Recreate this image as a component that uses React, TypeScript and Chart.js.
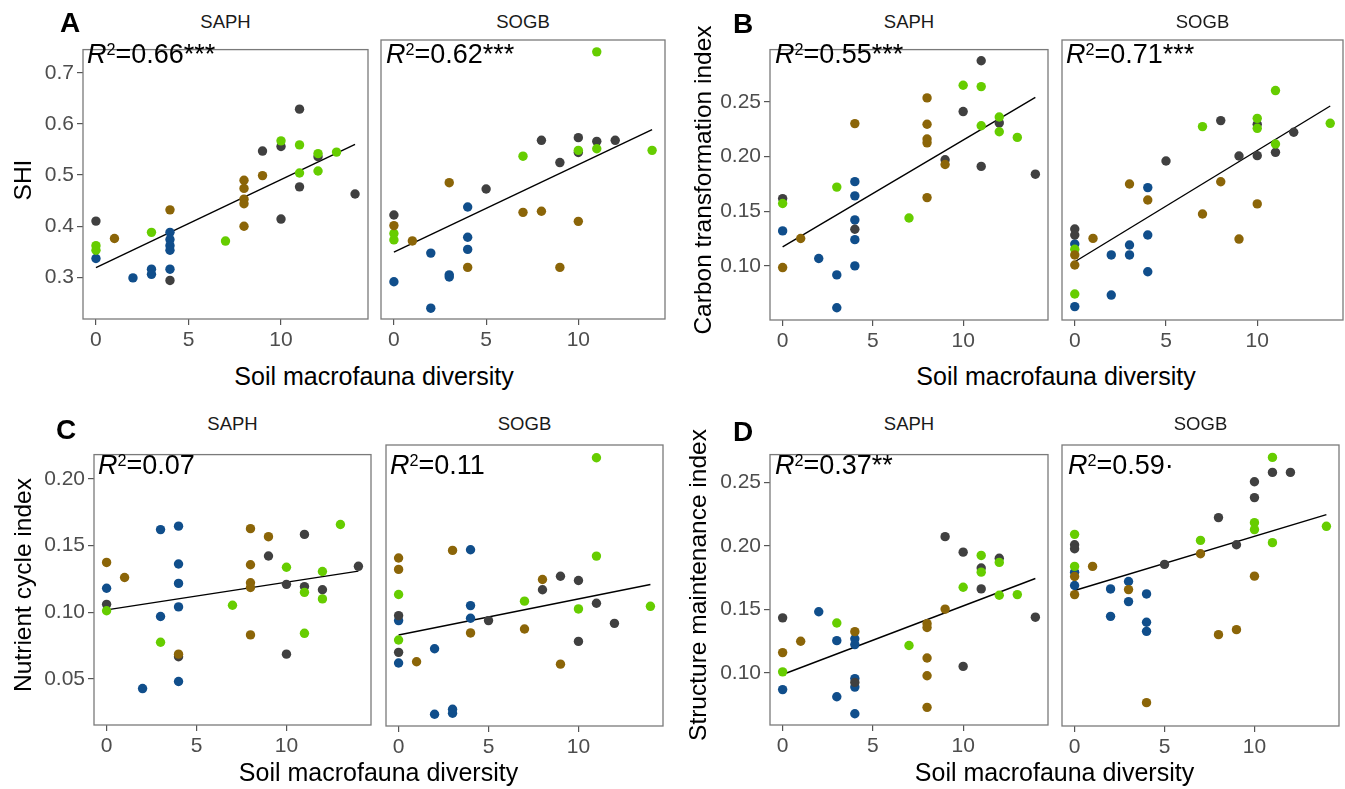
import React, { useEffect, useRef } from "react";
import { Chart, registerables } from "chart.js";
Chart.register(...registerables);

const FONT = "'Liberation Sans', Arial, Helvetica, sans-serif";

// group colours
const COLORS: Record<string, string> = {
  brown: "#8B6508",
  green: "#66CD00",
  dark: "#404040",
  blue: "#104E8B",
};
const DRAW_ORDER = ["brown", "green", "dark", "blue"];

// shared x axis
const xTicks = [0, 5, 10];
const xRange = [-0.7, 14.7];
const fitX = [0, 14];

// y axes per index
const yTicksA = [0.3, 0.4, 0.5, 0.6, 0.7];
const yRangeA = [0.2186, 0.7454];
const yTicksB = [0.1, 0.15, 0.2, 0.25];
const yRangeB = [0.0506, 0.2976];
const yTicksC = [0.05, 0.1, 0.15, 0.2];
const yRangeC = [0.0155, 0.2181];
const yTicksD = [0.1, 0.15, 0.2, 0.25];
const yRangeD = [0.0589, 0.2721];

const strips = ["SAPH", "SOGB"];
const xTitle = "Soil macrofauna diversity";
const yTitles = ["SHI", "Carbon transformation index", "Nutrient cycle index", "Structure maintenance index"];
const letters = ["A", "B", "C", "D"];
const r2Values = ["0.66", "0.62", "0.55", "0.71", "0.07", "0.11", "0.37", "0.59"];
const r2Stars = ["***", "***", "***", "***", "", "", "**", "·"];

// ---- A: SHI ----
const A_SAPH_dark = [[0, 0.41], [4, 0.294], [9, 0.547], [10, 0.556], [10, 0.414], [11, 0.629], [11, 0.477], [12, 0.536], [14, 0.463]];
const A_SAPH_green = [[0, 0.362], [0, 0.353], [3, 0.388], [7, 0.371], [10, 0.567], [11, 0.559], [11, 0.504], [12, 0.542], [12, 0.508], [13, 0.545]];
const A_SAPH_brown = [[1, 0.376], [4, 0.432], [8, 0.49], [8, 0.474], [8, 0.453], [8, 0.444], [8, 0.4], [9, 0.499]];
const A_SAPH_blue = [[0, 0.337], [2, 0.299], [3, 0.316], [3, 0.306], [4, 0.388], [4, 0.374], [4, 0.362], [4, 0.353], [4, 0.316]];
const A_SAPH_fit = [0.319, 0.56];

const A_SOGB_dark = [[0, 0.415], [5, 0.464], [8, 0.556], [9, 0.514], [10, 0.561], [10, 0.533], [11, 0.554], [12, 0.556]];
const A_SOGB_green = [[0, 0.38], [0, 0.368], [7, 0.526], [10, 0.537], [11, 0.723], [11, 0.54], [14, 0.537]];
const A_SOGB_brown = [[0, 0.395], [1, 0.366], [3, 0.476], [4, 0.316], [7, 0.42], [8, 0.422], [9, 0.316], [10, 0.403]];
const A_SOGB_blue = [[0, 0.289], [2, 0.343], [2, 0.239], [3, 0.302], [3, 0.298], [4, 0.43], [4, 0.373], [4, 0.35]];
const A_SOGB_fit = [0.345, 0.576];

// ---- B: Carbon transformation index ----
const B_SAPH_dark = [[0, 0.1615], [4, 0.1335], [9, 0.197], [10, 0.241], [11, 0.2874], [11, 0.1909], [12, 0.2306], [14, 0.1838]];
const B_SAPH_green = [[0, 0.157], [3, 0.172], [7, 0.1438], [10, 0.265], [11, 0.2638], [11, 0.228], [12, 0.236], [12, 0.2226], [13, 0.2174]];
const B_SAPH_brown = [[0, 0.0985], [1, 0.125], [4, 0.23], [8, 0.2535], [8, 0.2294], [8, 0.2159], [8, 0.2124], [8, 0.1624], [9, 0.1926]];
const B_SAPH_blue = [[0, 0.132], [2, 0.1068], [3, 0.0918], [3, 0.0618], [4, 0.177], [4, 0.164], [4, 0.142], [4, 0.124], [4, 0.1]];
const B_SAPH_fit = [0.1174, 0.254];

const B_SOGB_dark = [[0, 0.1309], [0, 0.1256], [5, 0.1909], [8, 0.2265], [9, 0.1953], [10, 0.2232], [10, 0.1956], [11, 0.1985], [12, 0.2162]];
const B_SOGB_green = [[0, 0.113], [0, 0.0735], [7, 0.2212], [10, 0.2285], [10, 0.2197], [11, 0.253], [11, 0.2059], [14, 0.2241]];
const B_SOGB_brown = [[0, 0.108], [0, 0.0991], [1, 0.1226], [3, 0.1706], [4, 0.1565], [7, 0.1441], [8, 0.1726], [9, 0.122], [10, 0.153]];
const B_SOGB_blue = [[0, 0.1176], [0, 0.0624], [2, 0.108], [2, 0.0726], [3, 0.1168], [3, 0.108], [4, 0.1674], [4, 0.1256], [4, 0.0932]];
const B_SOGB_fit = [0.102, 0.2394];

// ---- C: Nutrient cycle index ----
const C_SAPH_dark = [[0, 0.1059], [4, 0.0666], [9, 0.1421], [10, 0.1209], [10, 0.0686], [11, 0.1583], [11, 0.1192], [12, 0.1168], [14, 0.1344]];
const C_SAPH_green = [[0, 0.1011], [3, 0.0775], [7, 0.1052], [10, 0.1337], [11, 0.1149], [11, 0.0842], [12, 0.1305], [12, 0.11], [13, 0.1657]];
const C_SAPH_brown = [[0, 0.1373], [1, 0.126], [4, 0.0686], [8, 0.1626], [8, 0.1356], [8, 0.1221], [8, 0.1185], [8, 0.083], [9, 0.1566]];
const C_SAPH_blue = [[0, 0.118], [2, 0.0428], [3, 0.1619], [3, 0.0968], [4, 0.1645], [4, 0.1361], [4, 0.1216], [4, 0.104], [4, 0.0481]];
const C_SAPH_fit = [0.1018, 0.1308];

const C_SOGB_dark = [[0, 0.0951], [0, 0.0686], [5, 0.0915], [8, 0.1137], [9, 0.1235], [10, 0.1204], [10, 0.0765], [11, 0.104], [12, 0.0895]];
const C_SOGB_green = [[0, 0.1103], [0, 0.0775], [7, 0.1055], [10, 0.0999], [11, 0.2089], [11, 0.138], [14, 0.1018]];
const C_SOGB_brown = [[0, 0.1366], [0, 0.1284], [1, 0.0618], [3, 0.1421], [4, 0.0826], [7, 0.0854], [8, 0.1211], [9, 0.0601]];
const C_SOGB_blue = [[0, 0.0915], [0, 0.0609], [2, 0.0712], [2, 0.024], [3, 0.0276], [3, 0.0247], [4, 0.1426], [4, 0.1023], [4, 0.0932]];
const C_SOGB_fit = [0.0811, 0.1175];

// ---- D: Structure maintenance index ----
const D_SAPH_dark = [[0, 0.1434], [4, 0.0925], [9, 0.2074], [10, 0.1952], [10, 0.1051], [11, 0.1827], [11, 0.1662], [12, 0.1904], [14, 0.1439]];
const D_SAPH_green = [[0, 0.1008], [3, 0.1393], [7, 0.1216], [10, 0.1675], [11, 0.1926], [11, 0.1794], [12, 0.1871], [12, 0.1612], [13, 0.1617]];
const D_SAPH_brown = [[0, 0.116], [1, 0.1249], [4, 0.1325], [8, 0.1388], [8, 0.1358], [8, 0.1117], [8, 0.0977], [8, 0.0728], [9, 0.1503]];
const D_SAPH_blue = [[0, 0.0868], [2, 0.1482], [3, 0.1254], [3, 0.0812], [4, 0.1269], [4, 0.1223], [4, 0.0955], [4, 0.0888], [4, 0.0678]];
const D_SAPH_fit = [0.0987, 0.1744];

const D_SOGB_dark = [[0, 0.1964], [0, 0.1934], [5, 0.1815], [8, 0.217], [9, 0.1964], [10, 0.2442], [10, 0.2322], [11, 0.2513], [12, 0.2513]];
const D_SOGB_green = [[0, 0.2043], [0, 0.18], [7, 0.1997], [10, 0.2132], [10, 0.2079], [11, 0.2627], [11, 0.198], [14, 0.2104]];
const D_SOGB_brown = [[0, 0.1723], [0, 0.1586], [1, 0.18], [3, 0.1624], [4, 0.0766], [7, 0.1896], [8, 0.1282], [9, 0.132], [10, 0.1726]];
const D_SOGB_blue = [[0, 0.1756], [0, 0.1655], [2, 0.1629], [2, 0.1421], [3, 0.1685], [3, 0.1533], [4, 0.1591], [4, 0.1376], [4, 0.1307]];
const D_SOGB_fit = [0.1617, 0.2193];

type Pts = number[][];
type PanelDef = {
  l: number; t: number; r: number; b: number;
  showY: boolean;
  yRange: number[]; yTicks: number[]; yDec: number;
  groups: Record<string, Pts>;
  fit: number[];
  r2Left: number; r2Top: number; r2: number;
  strip: string;
};

const PANELS: PanelDef[] = [
  { l: 83, t: 40, r: 368, b: 319, showY: true, yRange: yRangeA, yTicks: yTicksA, yDec: 1, groups: { dark: A_SAPH_dark, green: A_SAPH_green, brown: A_SAPH_brown, blue: A_SAPH_blue }, fit: A_SAPH_fit, r2Left: 87, r2Top: 40.5, r2: 0, strip: strips[0] },
  { l: 381, t: 40, r: 665, b: 319, showY: false, yRange: yRangeA, yTicks: yTicksA, yDec: 1, groups: { dark: A_SOGB_dark, green: A_SOGB_green, brown: A_SOGB_brown, blue: A_SOGB_blue }, fit: A_SOGB_fit, r2Left: 386, r2Top: 40.5, r2: 1, strip: strips[1] },
  { l: 770, t: 40, r: 1048, b: 320, showY: true, yRange: yRangeB, yTicks: yTicksB, yDec: 2, groups: { dark: B_SAPH_dark, green: B_SAPH_green, brown: B_SAPH_brown, blue: B_SAPH_blue }, fit: B_SAPH_fit, r2Left: 775, r2Top: 40.5, r2: 2, strip: strips[0] },
  { l: 1062, t: 40, r: 1343, b: 320, showY: false, yRange: yRangeB, yTicks: yTicksB, yDec: 2, groups: { dark: B_SOGB_dark, green: B_SOGB_green, brown: B_SOGB_brown, blue: B_SOGB_blue }, fit: B_SOGB_fit, r2Left: 1066, r2Top: 40.5, r2: 3, strip: strips[1] },
  { l: 94, t: 445, r: 371, b: 725, showY: true, yRange: yRangeC, yTicks: yTicksC, yDec: 2, groups: { dark: C_SAPH_dark, green: C_SAPH_green, brown: C_SAPH_brown, blue: C_SAPH_blue }, fit: C_SAPH_fit, r2Left: 98, r2Top: 451.5, r2: 4, strip: strips[0] },
  { l: 386, t: 445, r: 663, b: 726, showY: false, yRange: yRangeC, yTicks: yTicksC, yDec: 2, groups: { dark: C_SOGB_dark, green: C_SOGB_green, brown: C_SOGB_brown, blue: C_SOGB_blue }, fit: C_SOGB_fit, r2Left: 390, r2Top: 451.5, r2: 5, strip: strips[1] },
  { l: 770, t: 445, r: 1048, b: 725, showY: true, yRange: yRangeD, yTicks: yTicksD, yDec: 2, groups: { dark: D_SAPH_dark, green: D_SAPH_green, brown: D_SAPH_brown, blue: D_SAPH_blue }, fit: D_SAPH_fit, r2Left: 775, r2Top: 451.5, r2: 6, strip: strips[0] },
  { l: 1062, t: 445, r: 1339, b: 726, showY: false, yRange: yRangeD, yTicks: yTicksD, yDec: 2, groups: { dark: D_SOGB_dark, green: D_SOGB_green, brown: D_SOGB_brown, blue: D_SOGB_blue }, fit: D_SOGB_fit, r2Left: 1068, r2Top: 451.5, r2: 7, strip: strips[1] },
];

const ML = 80, MT = 6, MR = 8, MB = 42;

const borderPlugin = {
  id: "panelBorder",
  afterDraw(chart: any) {
    const { ctx, chartArea } = chart;
    ctx.save();
    ctx.strokeStyle = "#7a7a7a";
    ctx.lineWidth = 1.3;
    ctx.strokeRect(chartArea.left, chartArea.top, chartArea.right - chartArea.left, chartArea.bottom - chartArea.top);
    ctx.restore();
  },
};

function Panel({ p }: { p: PanelDef }) {
  const ref = useRef<HTMLCanvasElement>(null);
  const w = p.r - p.l + ML + MR;
  const h = p.b - p.t + MT + MB;
  useEffect(() => {
    const tickGrid = {
      display: true,
      drawOnChartArea: false,
      drawTicks: true,
      tickLength: 6,
      color: "#555555",
      lineWidth: 1.2,
    };
    const datasets: any[] = DRAW_ORDER.map((k) => ({
      label: k,
      data: p.groups[k].map(([x, y]) => ({ x, y })),
      backgroundColor: COLORS[k],
      borderWidth: 0,
      pointRadius: 4.7,
      pointHoverRadius: 4.7,
      pointBorderWidth: 0,
    }));
    datasets.push({
      label: "fit",
      data: fitX.map((x, i) => ({ x, y: p.fit[i] })),
      showLine: true,
      borderColor: "#000000",
      borderWidth: 1.4,
      pointRadius: 0,
      fill: false,
      tension: 0,
    });
    const chart = new Chart(ref.current as HTMLCanvasElement, {
      type: "scatter",
      data: { datasets },
      options: {
        responsive: false,
        animation: false,
        events: [],
        layout: {
          autoPadding: false,
          padding: { left: 0, top: MT, right: MR, bottom: 0 },
        },
        plugins: { legend: { display: false }, tooltip: { enabled: false } },
        scales: {
          x: {
            type: "linear",
            min: xRange[0],
            max: xRange[1],
            afterBuildTicks: (s: any) => {
              s.ticks = xTicks.map((v) => ({ value: v }));
            },
            afterFit: (s: any) => {
              s.height = MB;
            },
            grid: tickGrid,
            border: { display: false },
            ticks: {
              autoSkip: false,
              maxRotation: 0,
              padding: 2.5,
              color: "#4d4d4d",
              font: { family: FONT, size: 21 },
              callback: (v: any) => String(v),
            },
          },
          y: {
            type: "linear",
            display: true,
            min: p.yRange[0],
            max: p.yRange[1],
            afterBuildTicks: (s: any) => {
              s.ticks = p.yTicks.map((v) => ({ value: v }));
            },
            afterFit: (s: any) => {
              s.width = ML;
            },
            grid: p.showY ? tickGrid : { display: false, drawTicks: false },
            border: { display: false },
            ticks: {
              display: p.showY,
              autoSkip: false,
              padding: 3,
              color: "#4d4d4d",
              font: { family: FONT, size: 21 },
              callback: (v: any) => Number(v).toFixed(p.yDec),
            },
          },
        },
      } as any,
      plugins: [borderPlugin],
    });
    return () => chart.destroy();
  }, []);
  return (
    <canvas
      ref={ref}
      width={w}
      height={h}
      style={{ position: "absolute", left: p.l - ML, top: p.t - MT, width: w, height: h, display: "block" }}
    />
  );
}

function Txt({ x, y, size, children, bold, color, center, rotate }: any) {
  const style: React.CSSProperties = {
    position: "absolute",
    left: x,
    top: y,
    fontFamily: FONT,
    fontSize: size,
    lineHeight: `${size}px`,
    fontWeight: bold ? "bold" : "normal",
    color: color || "#000",
    whiteSpace: "nowrap",
  };
  if (rotate) style.transform = "translate(-50%, -50%) rotate(-90deg)";
  else if (center) style.transform = "translateX(-50%)";
  return <div style={style}>{children}</div>;
}

export default function App() {
  const stripTops = [12.6, 414.6];
  const xTitleSpec = [
    { x: 374, y: 363.7 },
    { x: 1056, y: 363.7 },
    { x: 378.5, y: 759.7 },
    { x: 1054.5, y: 759.7 },
  ];
  const yTitleSpec = [
    { x: 23, y: 179.5 },
    { x: 703, y: 180 },
    { x: 23, y: 585 },
    { x: 698, y: 585 },
  ];
  const letterSpec = [
    { x: 60, y: 9.4 },
    { x: 733, y: 10.4 },
    { x: 56, y: 416.4 },
    { x: 733, y: 418.4 },
  ];
  return (
    <div style={{ position: "absolute", left: 0, top: 0, width: 1345, height: 789, background: "#fff", overflow: "hidden" }}>
      {PANELS.map((p, i) => (
        <Panel key={i} p={p} />
      ))}
      {PANELS.map((p, i) => (
        <Txt key={"s" + i} x={(p.l + p.r) / 2} y={stripTops[i < 4 ? 0 : 1]} size={18.5} color="#1a1a1a" center>
          {p.strip}
        </Txt>
      ))}
      {PANELS.map((p, i) => (
        <Txt key={"r" + i} x={p.r2Left} y={p.r2Top} size={27}>
          <i>R</i>
          <sup style={{ fontSize: "0.6em", verticalAlign: "0.5em", lineHeight: 0 }}>2</sup>={r2Values[p.r2]}
          {r2Stars[p.r2]}
        </Txt>
      ))}
      {xTitleSpec.map((s, i) => (
        <Txt key={"x" + i} x={s.x} y={s.y} size={25} center>
          {xTitle}
        </Txt>
      ))}
      {yTitleSpec.map((s, i) => (
        <Txt key={"y" + i} x={s.x} y={s.y} size={24.5} rotate>
          {yTitles[i]}
        </Txt>
      ))}
      {letterSpec.map((s, i) => (
        <Txt key={"l" + i} x={s.x} y={s.y} size={28} bold>
          {letters[i]}
        </Txt>
      ))}
    </div>
  );
}
